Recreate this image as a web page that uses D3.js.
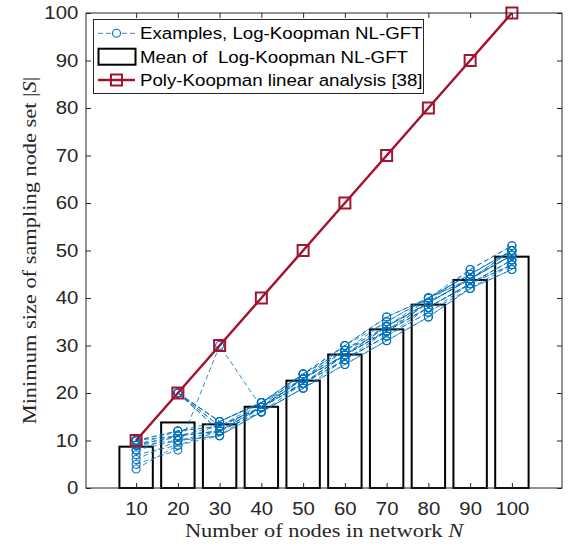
<!DOCTYPE html>
<html>
<head>
<meta charset="utf-8">
<script src="https://cdn.jsdelivr.net/npm/d3@7"></script>
<style>
  body { margin: 0; background: #fff; }
  svg { display: block; }
</style>
</head>
<body>
<svg id="chart" width="572" height="544"></svg>
<script>
// network sizes N
const nodes = [10, 20, 30, 40, 50, 60, 70, 80, 90, 100];

// mean of Log-Koopman NL-GFT (bar heights)
const meanLogKoopman = [8.7, 13.8, 13.4, 17.1, 22.6, 28.1, 33.4, 38.6, 43.8, 48.7];

// Poly-Koopman linear analysis [38]
const polyKoopman = [10, 20, 30, 40, 50, 60, 70, 80, 90, 100];

// example runs of Log-Koopman NL-GFT, one array per run
const run01 = [4, 9, 11, 16, 21, 26, 31, 36, 42, 46];
const run02 = [5, 8, 30, 17, 22, 27, 32, 37, 42, 47];
const run03 = [6, 10, 11, 16, 21, 26, 31, 36, 42, 46];
const run04 = [7, 9, 12, 16, 21, 27, 32, 38, 43, 47];
const run05 = [8, 10, 12, 17, 22, 27, 32, 37, 43, 47];
const run06 = [8, 11, 12, 16, 22, 27, 33, 38, 43, 48];
const run07 = [9, 10, 11, 17, 22, 28, 33, 38, 43, 48];
const run08 = [9, 11, 12, 17, 22, 28, 33, 38, 43, 48];
const run09 = [9, 11, 12, 17, 23, 28, 33, 39, 44, 49];
const run10 = [9, 12, 13, 17, 23, 28, 34, 39, 44, 49];
const run11 = [10, 11, 13, 17, 23, 28, 34, 39, 44, 49];
const run12 = [10, 12, 13, 18, 23, 28, 34, 39, 44, 49];
const run13 = [10, 12, 14, 18, 23, 29, 34, 39, 44, 49];
const run14 = [10, 20, 12, 17, 24, 29, 34, 40, 44, 50];
const run15 = [10, 20, 13, 17, 23, 29, 35, 40, 44, 50];
const run16 = [10, 20, 12, 18, 24, 29, 33, 40, 45, 50];
const run17 = [10, 20, 14, 18, 24, 30, 35, 40, 45, 50];
const run18 = [10, 20, 13, 17, 23, 30, 36, 40, 45, 50];
const run19 = [10, 20, 14, 18, 24, 30, 36, 40, 46, 51];
const run20 = [10, 20, 14, 18, 22, 28, 33, 39, 46, 51];
const runs = [run01, run02, run03, run04, run05, run06, run07, run08, run09, run10,
  run11, run12, run13, run14, run15, run16, run17, run18, run19, run20];

const yTicks = [0, 10, 20, 30, 40, 50, 60, 70, 80, 90, 100];

const legendLabels = [
  "Examples, Log-Koopman NL-GFT",
  "Mean of  Log-Koopman NL-GFT",
  "Poly-Koopman linear analysis [38]"
];

const blue = "#0072BD",
  red = "#A2142F",
  axisColor = "#262626",
  sansFont = "'Liberation Sans', Arial, sans-serif",
  serifFont = "'Liberation Serif', 'Times New Roman', serif";

const svg = d3.select("#chart");

let plotLeft = 86, plotRight = 562, plotTop = 13, plotBottom = 488;

var x = d3.scaleLinear().domain([-2, 112]).range([plotLeft, plotRight]);
var y = d3.scaleLinear().domain([0, 100]).range([plotBottom, plotTop]);
const barWidth = x(8) - x(0);

// bars: mean
svg.append("g")
  .selectAll("rect")
  .data(nodes)
  .enter()
  .append("rect")
  .attr("x", (d) => x(d) - barWidth / 2)
  .attr("y", (d, i) => y(meanLogKoopman[i]))
  .attr("width", barWidth)
  .attr("height", (d, i) => y(0) - y(meanLogKoopman[i]))
  .attr("fill", "#fff")
  .attr("stroke", "#000")
  .attr("stroke-width", 2);

// example runs
const line = d3.line()
  .x((d, i) => x(nodes[i]))
  .y((d) => y(d));

const runGroup = svg.append("g");
runs.forEach(function (run) {
  runGroup.append("path")
    .attr("d", line(run))
    .attr("fill", "none")
    .attr("stroke", blue)
    .attr("stroke-width", 0.8)
    .attr("stroke-dasharray", "5,3");
});
runs.forEach(function (run) {
  runGroup.selectAll(null)
    .data(run)
    .enter()
    .append("circle")
    .attr("cx", (d, i) => x(nodes[i]))
    .attr("cy", (d) => y(d))
    .attr("r", 4)
    .attr("fill", "none")
    .attr("stroke", blue)
    .attr("stroke-width", 1.1);
});

// Poly-Koopman line
svg.append("path")
  .attr("d", line(polyKoopman))
  .attr("fill", "none")
  .attr("stroke", red)
  .attr("stroke-width", 2.5);
svg.append("g")
  .selectAll("rect")
  .data(polyKoopman)
  .enter()
  .append("rect")
  .attr("x", (d, i) => x(nodes[i]) - 5.5)
  .attr("y", (d) => y(d) - 5.5)
  .attr("width", 11)
  .attr("height", 11)
  .attr("fill", "none")
  .attr("stroke", red)
  .attr("stroke-width", 2);

// axes
const xAxis = svg.append("g")
  .attr("transform", `translate(0, ${plotBottom})`)
  .call(d3.axisBottom(x).tickValues(nodes).tickSizeInner(-5).tickSizeOuter(0).tickPadding(14));
const xTop = svg.append("g")
  .attr("transform", `translate(0, ${plotTop})`)
  .call(d3.axisTop(x).tickValues(nodes).tickSizeInner(-5).tickSizeOuter(0).tickFormat(""));
const yAxis = svg.append("g")
  .attr("transform", `translate(${plotLeft}, 0)`)
  .call(d3.axisLeft(y).tickValues(yTicks).tickSizeInner(-5).tickSizeOuter(0).tickPadding(7));
const yRight = svg.append("g")
  .attr("transform", `translate(${plotRight}, 0)`)
  .call(d3.axisRight(y).tickValues(yTicks).tickSizeInner(-5).tickSizeOuter(0).tickFormat(""));

[xAxis, xTop, yAxis, yRight].forEach(function (g) {
  g.select(".domain").remove();
  g.selectAll("line").attr("stroke", axisColor).attr("stroke-width", 1);
  g.selectAll("text")
    .attr("fill", axisColor)
    .style("font-family", sansFont)
    .style("font-size", "18.5px")
    .attr("transform", "scale(1.1,1)");
});

// frame
svg.append("rect")
  .attr("x", plotLeft)
  .attr("y", plotTop)
  .attr("width", plotRight - plotLeft)
  .attr("height", plotBottom - plotTop)
  .attr("fill", "none")
  .attr("stroke", axisColor)
  .attr("stroke-width", 1);

// axis titles
const xTitle = svg.append("text")
  .attr("transform", `translate(${(plotLeft + plotRight) / 2}, 537) scale(1.15,1)`)
  .attr("text-anchor", "middle")
  .style("font-family", serifFont)
  .style("font-size", "19.5px")
  .attr("fill", axisColor);
xTitle.append("tspan").text("Number of nodes in network ");
xTitle.append("tspan").style("font-style", "italic").text("N");

const yTitle = svg.append("text")
  .attr("transform", `translate(36, ${(plotTop + plotBottom) / 2}) rotate(-90) scale(1.15,1)`)
  .attr("text-anchor", "middle")
  .style("font-family", serifFont)
  .style("font-size", "19.5px")
  .attr("fill", axisColor);
yTitle.append("tspan").text("Minimum size of sampling node set |");
yTitle.append("tspan").style("font-style", "italic").text("S");
yTitle.append("tspan").text("|");

// legend
const legend = svg.append("g");
legend.append("rect")
  .attr("x", 93.5)
  .attr("y", 19.5)
  .attr("width", 330)
  .attr("height", 74)
  .attr("fill", "#fff")
  .attr("stroke", axisColor)
  .attr("stroke-width", 1);

const rowY = [33.3, 56.7, 80];
legend.append("line")
  .attr("x1", 98).attr("x2", 135)
  .attr("y1", rowY[0]).attr("y2", rowY[0])
  .attr("stroke", blue).attr("stroke-width", 0.8)
  .attr("stroke-dasharray", "5,3");
legend.append("circle")
  .attr("cx", 116.5).attr("cy", rowY[0]).attr("r", 4)
  .attr("fill", "#fff").attr("stroke", blue).attr("stroke-width", 1.1);
legend.append("rect")
  .attr("x", 98.5).attr("y", rowY[1] - 8)
  .attr("width", 37).attr("height", 16)
  .attr("fill", "#fff").attr("stroke", "#000").attr("stroke-width", 2);
legend.append("line")
  .attr("x1", 98).attr("x2", 135)
  .attr("y1", rowY[2]).attr("y2", rowY[2])
  .attr("stroke", red).attr("stroke-width", 2.5);
legend.append("rect")
  .attr("x", 111).attr("y", rowY[2] - 5.5)
  .attr("width", 11).attr("height", 11)
  .attr("fill", "none").attr("stroke", red).attr("stroke-width", 2);

legend.selectAll("text.label")
  .data(legendLabels)
  .enter()
  .append("text")
  .attr("class", "label")
  .attr("transform", (d, i) => `translate(140, ${rowY[i]}) scale(1.1,1)`)
  .attr("dy", "0.36em")
  .style("font-family", sansFont)
  .style("font-size", "17px")
  .style("white-space", "pre")
  .attr("fill", "#000")
  .text((d) => d);
</script>
</body>
</html>
